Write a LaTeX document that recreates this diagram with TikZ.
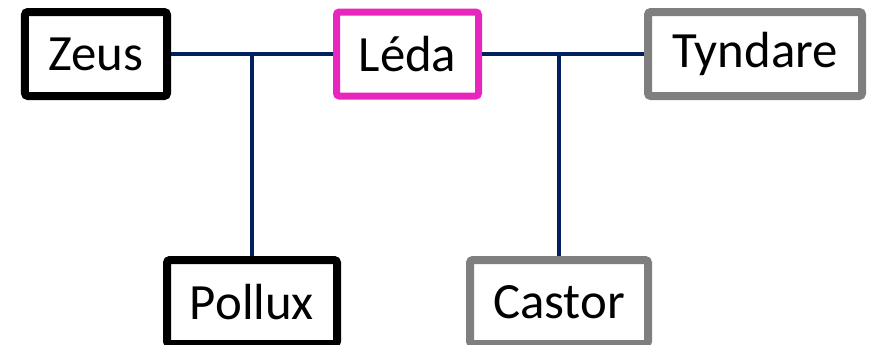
\documentclass[tikz,border=0pt]{standalone}
\usepackage{fontspec}
\setmainfont{Carlito}
\usepackage{tikz}
\usetikzlibrary{positioning}
\usetikzlibrary{calc}
\definecolor{lien}{RGB}{0,32,96}
\definecolor{rose}{RGB}{232,38,190}
\definecolor{gris}{RGB}{127,127,127}
\tikzset{perso/.style={draw,line width=8bp,rounded corners=0.6ex,fill=white,inner sep=0pt,minimum height=84bp,font=\fontsize{51}{60}\selectfont},lien/.style={draw=lien,line width=3.5bp}}

\begin{document}
\begin{tikzpicture}[x=1bp, y=-1bp]
\useasboundingbox (0,0) rectangle (872,344);
\node (zeus) at (96,54) [perso, minimum width=142bp] {Zeus};
\node (leda) at (407.5,54) [perso, draw=rose, line width=7bp, minimum width=142bp] {Léda};
\node (tyndare) at (755,54) [perso, draw=gris, minimum width=214bp] {Tyndare};
\node (pollux) at (252,302) [perso, minimum width=170bp] {Pollux};
\node (castor) at (559,302) [perso, draw=gris, minimum width=178bp] {Castor};
\draw[lien] (zeus) -- (leda);
\draw[lien] (leda) -- (tyndare);
\draw[lien] (pollux.north) -- (pollux.north |- zeus.east);
\draw[lien] (castor.north) -- (castor.north |- leda.east);
\end{tikzpicture}
\end{document}
